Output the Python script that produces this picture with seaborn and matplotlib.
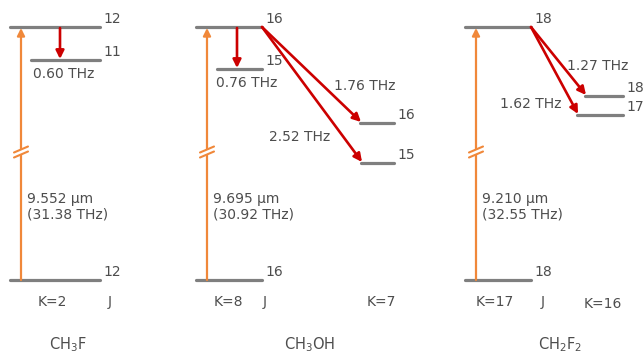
import numpy as np
import pandas as pd
import seaborn as sns
import matplotlib.pyplot as plt

# --- data ---
molecules = ["CH$_3$F", "CH$_3$OH", "CH$_2$F$_2$"]
pump_um = ["9.552", "9.695", "9.210"]
pump_thz = ["31.38", "30.92", "32.55"]
k_pump = [2, 8, 17]
j_pump = [12, 16, 18]
# THz lines: (molecule index, lower J, lower K, frequency)
thz_mol = [0, 1, 1, 1, 2, 2]
thz_j = [11, 15, 16, 15, 18, 17]
thz_k = [2, 8, 7, 7, 16, 16]
thz_freq = ["0.60", "0.76", "1.76", "2.52", "1.27", "1.62"]

# --- layout (pixel space) ---
col_x0 = [10, 196, 465]          # left edge of pumped K ladder
col_x1 = [100, 262, 531]         # right edge
pump_x = [21, 207, 476]          # pump arrow x
y_top, y_bot = 27, 280
side_x1 = {7: 394, 16: 623}
lower_y = [60, 69, 123, 163, 96, 115]
lower_x0 = [31, 217, 360, 361, 585, 577]
arrow_x = [60, 237, None, None, None, None]
freq_pos = [(33, 74), (216, 83), (334, 86), (269, 137), (567, 66), (500, 104)]
k_label_x = {2: 38, 8: 214, 7: 367, 17: 476, 16: 584}
j_label_x = [108, 263, 541]
mol_x = [68, 310, 560]

GRAY = "#7f7f7f"
ORANGE = "#f0883a"
RED = "#cc0000"
TXT = "#4d4d4d"

sns.set_theme(style="white")
plt.rcParams["font.family"] = ["DejaVu Sans"]

fig = plt.figure(figsize=(6.44, 3.56), dpi=100)
ax = fig.add_axes([0, 0, 1, 1])

# build level segments
rows = []
lid = 0
for i in range(3):
    for y in (y_top, y_bot):
        rows += [dict(x=col_x0[i], y=y, u=lid), dict(x=col_x1[i], y=y, u=lid)]
        lid += 1
for n in range(len(thz_j)):
    x1 = side_x1[thz_k[n]] if thz_k[n] != k_pump[thz_mol[n]] else col_x1[thz_mol[n]]
    rows += [dict(x=lower_x0[n], y=lower_y[n], u=lid), dict(x=x1, y=lower_y[n], u=lid)]
    lid += 1
levels = pd.DataFrame(rows)
sns.lineplot(data=levels, x="x", y="y", units="u", estimator=None, sort=False,
             color=GRAY, lw=2.3, ax=ax)

fs = 10
for i in range(3):
    # J labels of pumped levels
    ax.text(col_x1[i] + 3, y_top - 1, str(j_pump[i]), fontsize=fs, color=TXT, va="bottom")
    ax.text(col_x1[i] + 3, y_bot - 1, str(j_pump[i]), fontsize=fs, color=TXT, va="bottom")
    # pump arrow
    ax.annotate("", xy=(pump_x[i], y_top + 1), xytext=(pump_x[i], y_bot),
                arrowprops=dict(arrowstyle="-|>", color=ORANGE, lw=1.6,
                                mutation_scale=11, shrinkA=0, shrinkB=0))
    # break marks
    px = pump_x[i]
    yb = 152
    ax.fill([px - 7, px + 7, px + 7, px - 7], [yb + 1, yb - 5, yb - 1, yb + 5],
            color="white", zorder=3)
    for d in (0, 5):
        ax.plot([px - 7, px + 7], [yb + 0.5 + d, yb - 5.5 + d], color=ORANGE, lw=1.5, zorder=4)
    ax.text(px + 6, 207, f"{pump_um[i]} µm\n({pump_thz[i]} THz)", fontsize=fs,
            color=TXT, va="center", linespacing=1.15)
    ax.text(k_label_x[k_pump[i]], 302, f"K={k_pump[i]}", fontsize=fs, color=TXT, va="center")
    ax.text(j_label_x[i], 302, "J", fontsize=fs, color=TXT, va="center")
    ax.text(mol_x[i], 345, molecules[i], fontsize=10.5, color=TXT, va="center", ha="center")

for n in range(len(thz_j)):
    m = thz_mol[n]
    same_k = thz_k[n] == k_pump[m]
    x1 = col_x1[m] if same_k else side_x1[thz_k[n]]
    ax.text(x1 + 3, lower_y[n] - 1, str(thz_j[n]), fontsize=fs, color=TXT, va="bottom")
    if same_k:
        start = (arrow_x[n], y_top + 1)
        end = (arrow_x[n], lower_y[n] - 1)
    else:
        start = (col_x1[m], y_top)
        end = (lower_x0[n] + 1, lower_y[n] - 1)
    ax.annotate("", xy=end, xytext=start,
                arrowprops=dict(arrowstyle="-|>", color=RED, lw=1.9,
                                mutation_scale=12, shrinkA=0, shrinkB=0))
    fx, fy = freq_pos[n]
    ax.text(fx, fy, f"{thz_freq[n]} THz", fontsize=fs, color=TXT, va="center")

ax.text(k_label_x[7], 302, "K=7", fontsize=fs, color=TXT, va="center")
ax.text(k_label_x[16], 304, "K=16", fontsize=fs, color=TXT, va="center")

ax.set_xlim(0, 644)
ax.set_ylim(356, 0)
ax.axis("off")

fig.savefig("out.png", dpi=100)
